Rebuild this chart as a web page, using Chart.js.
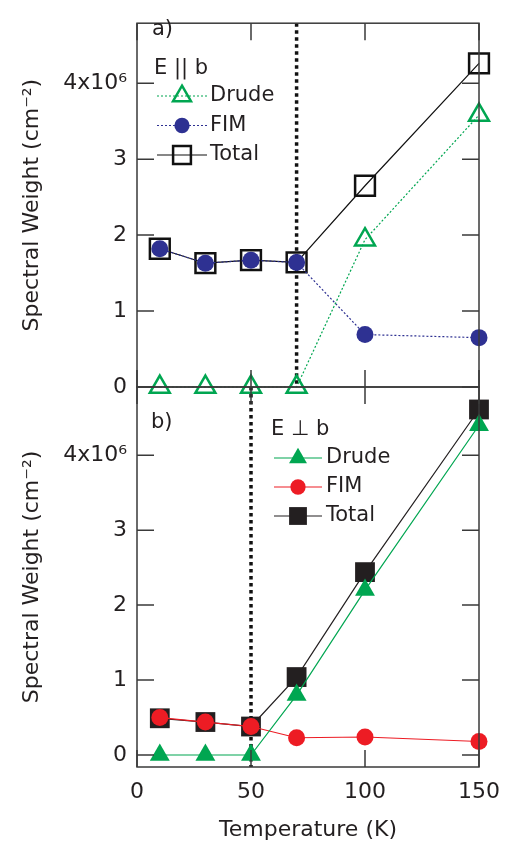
<!DOCTYPE html>
<html>
<head>
<meta charset="utf-8">
<script src="https://cdn.jsdelivr.net/npm/chart.js@4.4.1/dist/chart.umd.min.js"></script>
<style>
    html, body { margin: 0; padding: 0; background: #fff; }
    #wrap { position: relative; width: 512px; height: 843px; }
    #wrap canvas { position: absolute; left: 0; top: 0; }
</style>
</head>
<body>
<div id="wrap">
    <canvas id="panelA" width="512" height="843"></canvas>
    <canvas id="panelB" width="512" height="843"></canvas>
</div>
<script>
// Temperature (K)
const temps = [10, 30, 50, 70, 100, 150];

// a) E || b, spectral weight in 10^6 cm^-2
const drudePar = [0, 0, 0, 0, 1.94, 3.58];
const fimPar = [1.82, 1.63, 1.67, 1.64, 0.69, 0.65];
const totalPar = [1.82, 1.63, 1.67, 1.64, 2.65, 4.26];

// b) E perp b
const drudePerp = [0, 0, 0, 0.8, 2.2, 4.4];
const fimPerp = [0.5, 0.44, 0.38, 0.23, 0.24, 0.18];
const totalPerp = [0.49, 0.44, 0.38, 1.04, 2.44, 4.61];

const seriesLabels = ["Drude", "FIM", "Total"];
const yTicks = [0, 1, 2, 3, 4];
const xTicks = [0, 50, 100, 150];
const transitionPar = 70;   // dotted line in a)
const transitionPerp = 50;  // dotted line in b)

const FONT = "'DejaVu Sans', sans-serif";
const INK = "#231f20";
const GREEN = "#00a651";
const BLUE = "#2e3192";
const RED = "#ed1c24";

const toPoints = (ys) => temps.map((t, i) => ({ x: t, y: ys[i] }));
const yLabel = (v) => (v === 4 ? "4x10\u2076" : String(v));

// frame, inward ticks, dotted transition line, legend and panel letter
const panelDeco = {
    id: "panelDeco",
    beforeDatasetsDraw(chart, args, opts) {
        const { ctx, chartArea: a, scales } = chart;
        const x = scales.x.getPixelForValue(opts.transition);
        ctx.save();
        ctx.strokeStyle = "#111";
        ctx.lineWidth = 3.5;
        ctx.setLineDash([3.5, 3.5]);
        ctx.beginPath();
        ctx.moveTo(x, a.top);
        ctx.lineTo(x, a.bottom);
        ctx.stroke();
        ctx.restore();
    },
    afterDraw(chart, args, opts) {
        const { ctx, chartArea: a, scales } = chart;
        const tl = 17;
        ctx.save();
        ctx.strokeStyle = "#3a3a3a";
        ctx.lineWidth = 1.5;
        ctx.strokeRect(a.left, a.top, a.right - a.left, a.bottom - a.top);
        ctx.beginPath();
        yTicks.forEach((v) => {
            const y = scales.y.getPixelForValue(v);
            if (y < a.top || y > a.bottom) return;
            ctx.moveTo(a.left, y); ctx.lineTo(a.left + tl, y);
            ctx.moveTo(a.right, y); ctx.lineTo(a.right - tl, y);
        });
        xTicks.forEach((v) => {
            const x = scales.x.getPixelForValue(v);
            ctx.moveTo(x, a.top); ctx.lineTo(x, a.top + tl);
            ctx.moveTo(x, a.bottom); ctx.lineTo(x, a.bottom - tl);
        });
        ctx.stroke();

        // panel letter and legend
        ctx.fillStyle = INK;
        ctx.font = "21px " + FONT;
        ctx.textBaseline = "middle";
        ctx.textAlign = "left";
        ctx.fillText(opts.letter, opts.letterX, opts.letterY);
        const lg = opts.legend;
        ctx.fillText(lg.title, lg.titleX, lg.titleY);
        chart.data.datasets.forEach((ds, i) => {
            const y = lg.y0 + i * lg.dy;
            ctx.save();
            ctx.strokeStyle = ds.borderColor;
            ctx.lineWidth = ds.borderWidth;
            ctx.setLineDash(ds.borderDash || []);
            ctx.beginPath();
            ctx.moveTo(lg.lineX0, y);
            ctx.lineTo(lg.lineX1, y);
            ctx.stroke();
            ctx.restore();
            ctx.save();
            ctx.fillStyle = ds.pointBackgroundColor;
            ctx.strokeStyle = ds.pointBorderColor;
            ctx.lineWidth = ds.pointBorderWidth;
            Chart.helpers.drawPoint(ctx, {
                pointStyle: ds.pointStyle,
                radius: ds.pointRadius * 0.9,
                rotation: 0,
                borderWidth: ds.pointBorderWidth
            }, (lg.lineX0 + lg.lineX1) / 2, y);
            ctx.restore();
            ctx.fillStyle = INK;
            ctx.fillText(ds.label, lg.textX, y);
        });
        ctx.restore();
    }
};

const yAxis = (min, max) => ({
    type: "linear",
    min: min,
    max: max,
    afterFit: (s) => { s.width = 137; },
    afterBuildTicks: (s) => { s.ticks = yTicks.map((v) => ({ value: v })); },
    grid: { display: false, drawTicks: false },
    border: { display: false },
    ticks: {
        color: INK,
        padding: 10,
        font: { family: FONT, size: 22 },
        callback: yLabel
    },
    title: {
        display: true,
        text: "Spectral Weight (cm\u207B\u00B2)",
        color: INK,
        font: { family: FONT, size: 22 },
        padding: { top: 19, bottom: 0 }
    }
});

const makeDataset = (label, ys, color, style, filled, radius, dash) => ({
    label: label,
    data: toPoints(ys),
    borderColor: color,
    borderWidth: 1.2,
    borderDash: dash,
    pointStyle: style,
    pointRadius: radius,
    pointHoverRadius: radius,
    pointBorderWidth: filled ? 0 : 2.5,
    pointBorderColor: color,
    pointBackgroundColor: filled ? color : "rgba(0,0,0,0)",
    clip: false,
    tension: 0
});

const baseOptions = {
    responsive: false,
    animation: false,
    events: [],
    plugins: { legend: { display: false }, tooltip: { enabled: false } }
};

// a) E || b
new Chart(document.getElementById("panelA"), {
    type: "line",
    data: {
        datasets: [
            makeDataset(seriesLabels[0], drudePar, GREEN, "triangle", false, 11.5, [2, 2]),
            makeDataset(seriesLabels[1], fimPar, BLUE, "circle", true, 8.5, [2, 2]),
            makeDataset(seriesLabels[2], totalPar, "#111", "rect", false, 14, [])
        ]
    },
    options: {
        ...baseOptions,
        layout: { padding: { top: 6, right: 33, bottom: 456, left: 0 } },
        scales: {
            x: { type: "linear", min: 0, max: 150, display: false },
            y: yAxis(0, 4.79)
        },
        plugins: {
            ...baseOptions.plugins,
            panelDeco: {
                transition: transitionPar,
                letter: "a)", letterX: 152, letterY: 30,
                legend: {
                    title: "E || b", titleX: 154, titleY: 69,
                    y0: 96, dy: 29.5, lineX0: 157, lineX1: 207, textX: 210
                }
            }
        }
    },
    plugins: [panelDeco]
});

// b) E perp b
new Chart(document.getElementById("panelB"), {
    type: "line",
    data: {
        datasets: [
            makeDataset(seriesLabels[0], drudePerp, GREEN, "triangle", true, 11.5, []),
            makeDataset(seriesLabels[1], fimPerp, RED, "circle", true, 8.5, []),
            makeDataset(seriesLabels[2], totalPerp, "#231f20", "rect", true, 14, [])
        ]
    },
    options: {
        ...baseOptions,
        layout: { padding: { top: 387, right: 33, bottom: 0, left: 0 } },
        scales: {
            x: {
                type: "linear",
                min: 0,
                max: 150,
                afterFit: (s) => { s.height = 76; },
                afterBuildTicks: (s) => { s.ticks = xTicks.map((v) => ({ value: v })); },
                grid: { display: false, drawTicks: false },
                border: { display: false },
                ticks: {
                    color: INK,
                    padding: 12,
                    maxRotation: 0,
                    font: { family: FONT, size: 22 }
                },
                title: {
                    display: true,
                    text: "Temperature (K)",
                    color: INK,
                    font: { family: FONT, size: 22 },
                    padding: { top: 0, bottom: 0 }
                }
            },
            y: yAxis(-0.16, 4.91)
        },
        plugins: {
            ...baseOptions.plugins,
            panelDeco: {
                transition: transitionPerp,
                letter: "b)", letterX: 151, letterY: 423,
                legend: {
                    title: "E \u22A5 b", titleX: 271, titleY: 430,
                    y0: 458, dy: 29, lineX0: 274, lineX1: 322, textX: 326
                }
            }
        }
    },
    plugins: [panelDeco]
});
</script>
</body>
</html>
